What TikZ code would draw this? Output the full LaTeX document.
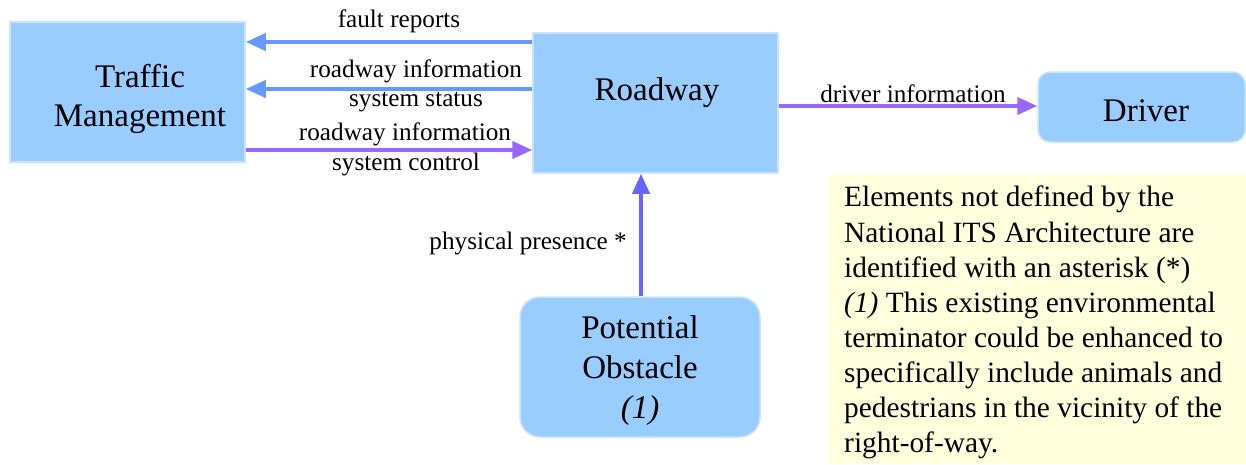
\documentclass[tikz,border=0pt]{standalone}
\usepackage{fontspec}
\setmainfont{Liberation Serif}
\usetikzlibrary{arrows.meta}
\definecolor{boxfill}{HTML}{99CCFF}
\definecolor{boxline}{HTML}{C8E4FF}
\definecolor{bluearr}{HTML}{6699FF}
\definecolor{purparr}{HTML}{9966FF}
\definecolor{physarr}{HTML}{6666FF}
\definecolor{notefill}{HTML}{FFFFDD}
\tikzset{
  entity/.style={draw=boxline, line width=1.5pt, fill=boxfill, inner sep=0pt},
  bigtxt/.style={font=\fontsize{33}{39}\selectfont, align=center, inner sep=0pt},
  lbl/.style={font=\fontsize{25.2}{29}\selectfont, inner sep=0pt},
  flow/.style={line width=4pt, -{Triangle[length=20pt,width=17pt]}},
}
\begin{document}
\begin{tikzpicture}[x=1pt,y=-1pt]
\useasboundingbox (0,0) rectangle (1246,464);
\fill[white] (0,0) rectangle (1246,464);
% boxes
\node[entity, minimum width=235pt, minimum height=140pt] (tm) at (127.5,92) {};
\node[bigtxt] (tmtxt) at (140,99) {Traffic\\Management};
\node[entity, minimum width=245pt, minimum height=140pt] (rw) at (655.5,103) {};
\node[bigtxt] (rwtxt) at (657,93) {Roadway};
\node[entity, rounded corners=12pt, minimum width=207pt, minimum height=70pt] (dr) at (1141.5,107) {};
\node[bigtxt] (drtxt) at (1146,111) {Driver};
\node[entity, rounded corners=20pt, minimum width=240pt, minimum height=140pt] (po) at (640,367) {};
\node[bigtxt, font=\fontsize{33}{40}\selectfont] (potxt) at (640,371) {Potential\\Obstacle\\\textit{(1)}};
% note
\node[fill=notefill, inner sep=0pt, minimum width=417pt, minimum height=289pt] (nb) at (1037.5,319.5) {};
\node[anchor=north west, align=left, inner sep=0pt, font=\fontsize{29.4}{35.1}\selectfont] (nt) at (844,186)
 {Elements not defined by the\\National ITS Architecture are\\identified with an asterisk (*)\\\textit{(1)} This existing environmental\\terminator could be enhanced to\\specifically include animals and\\pedestrians in the vicinity of the\\right-of-way.};
% connectors
\draw[flow, bluearr] (rw.west |- 0,42) -- (tm.east |- 0,42);
\draw[flow, bluearr] (rw.west |- 0,89) -- (tm.east |- 0,89);
\draw[flow, purparr] (tm.east |- 0,150) -- (rw.west |- 0,150);
\draw[flow, purparr] (rw.east |- 0,106) -- (dr.west |- 0,106);
\draw[flow, physarr] (po.north -| 641,0) -- (rw.south -| 641,0);
% labels
\node[lbl] (l1) at (399,21) {fault reports};
\node[lbl] (l2) at (416,71) {roadway information};
\node[lbl] (l3) at (416,102) {system status};
\node[lbl] (l4) at (405,134) {roadway information};
\node[lbl] (l5) at (406,164) {system control};
\node[lbl] (l6) at (913,94) {driver information};
\node[lbl, anchor=east] (l7) at (627,243) {physical presence *};
\end{tikzpicture}
\end{document}
